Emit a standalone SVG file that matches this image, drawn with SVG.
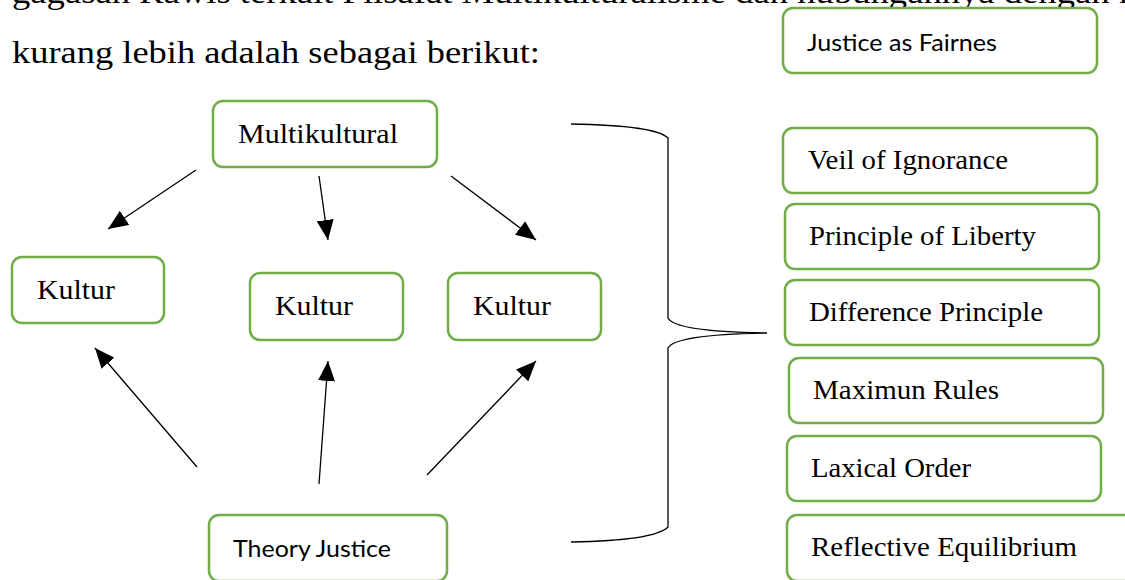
<svg xmlns="http://www.w3.org/2000/svg" width="1125" height="580" viewBox="0 0 1125 580">
<style>
.box{fill:#fff;stroke:#70AD47;stroke-width:2.5}
.serif{font-family:"Liberation Serif","Times New Roman",serif;font-size:27px;fill:#000}
.sans{font-family:Lato,"Liberation Sans",sans-serif;font-size:24px;fill:#000}
.body{font-family:"Liberation Serif","Times New Roman",serif;font-size:31px;fill:#000}
.conn{stroke:#000;stroke-width:1.3;fill:none}
</style>
<defs>
<marker id="ah" viewBox="0 0 10 10" refX="10" refY="5" markerWidth="20" markerHeight="17" markerUnits="userSpaceOnUse" orient="auto" preserveAspectRatio="none">
<path d="M0,0 L10,5 L0,10 z" fill="#000"/>
</marker>
</defs>
<rect width="1125" height="580" fill="#fff"/>
<text class="body" x="12" y="3" textLength="1125" lengthAdjust="spacingAndGlyphs">gagasan Rawls terkait Filsafat Multikulturalisme dan hubungannya dengan k</text>
<text class="body" x="12" y="63" textLength="528" lengthAdjust="spacingAndGlyphs">kurang lebih adalah sebagai berikut:</text>

<g id="connectors">
<line class="conn" x1="196" y1="170" x2="108" y2="229" marker-end="url(#ah)"/>
<line class="conn" x1="319" y1="176" x2="328" y2="240" marker-end="url(#ah)"/>
<line class="conn" x1="451" y1="176" x2="536" y2="240" marker-end="url(#ah)"/>
<line class="conn" x1="197" y1="467" x2="95" y2="348" marker-end="url(#ah)"/>
<line class="conn" x1="319" y1="484" x2="328" y2="361" marker-end="url(#ah)"/>
<line class="conn" x1="427" y1="475" x2="536" y2="361" marker-end="url(#ah)"/>
<path class="conn" d="M571,124 C630,125 660,130 668,138 L668,318 C672,326 700,332 767,333 M767,333 C700,334 672,340 668,348 L668,527 C660,535 630,541 571,542"/>
</g>

<g id="justice-as-fairnes"><rect class="box" x="783" y="8" width="314" height="65" rx="10"/><text class="sans" x="807" y="51" textLength="190" lengthAdjust="spacingAndGlyphs">Justice as Fairnes</text></g>
<g id="multikultural"><rect class="box" x="213" y="101" width="224" height="66" rx="10"/><text class="serif" x="238" y="143" textLength="160" lengthAdjust="spacingAndGlyphs">Multikultural</text></g>
<g id="kultur-1"><rect class="box" x="12" y="257" width="152" height="66" rx="10"/><text class="serif" x="37" y="299" textLength="78" lengthAdjust="spacingAndGlyphs">Kultur</text></g>
<g id="kultur-2"><rect class="box" x="250" y="273" width="153" height="67" rx="10"/><text class="serif" x="275" y="315" textLength="78" lengthAdjust="spacingAndGlyphs">Kultur</text></g>
<g id="kultur-3"><rect class="box" x="448" y="273" width="153" height="67" rx="10"/><text class="serif" x="473" y="315" textLength="78" lengthAdjust="spacingAndGlyphs">Kultur</text></g>
<g id="theory-justice"><rect class="box" x="209" y="515" width="238" height="66" rx="10"/><text class="sans" x="233" y="557" textLength="158" lengthAdjust="spacingAndGlyphs">Theory Justice</text></g>
<g id="veil"><rect class="box" x="783" y="128" width="314" height="65" rx="10"/><text class="serif" x="808" y="169" textLength="200" lengthAdjust="spacingAndGlyphs">Veil of Ignorance</text></g>
<g id="liberty"><rect class="box" x="785" y="204" width="314" height="65" rx="10"/><text class="serif" x="809" y="245" textLength="227" lengthAdjust="spacingAndGlyphs">Principle of Liberty</text></g>
<g id="difference"><rect class="box" x="785" y="280" width="314" height="65" rx="10"/><text class="serif" x="809" y="321" textLength="234" lengthAdjust="spacingAndGlyphs">Difference Principle</text></g>
<g id="maximun"><rect class="box" x="789" y="358" width="314" height="65" rx="10"/><text class="serif" x="813" y="399" textLength="186" lengthAdjust="spacingAndGlyphs">Maximun Rules</text></g>
<g id="laxical"><rect class="box" x="787" y="436" width="314" height="65" rx="10"/><text class="serif" x="811" y="477" textLength="160" lengthAdjust="spacingAndGlyphs">Laxical Order</text></g>
<g id="reflective"><rect class="box" x="787" y="515" width="350" height="66" rx="10"/><text class="serif" x="811" y="556" textLength="266" lengthAdjust="spacingAndGlyphs">Reflective Equilibrium</text></g>
</svg>
